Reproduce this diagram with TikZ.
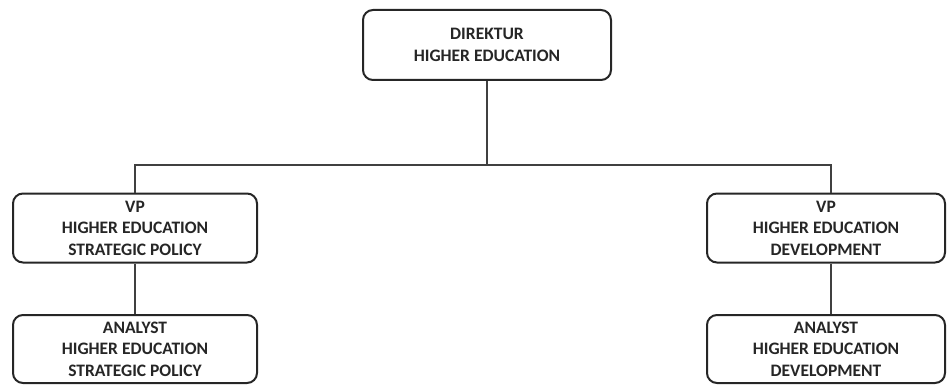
\documentclass[tikz,border=0pt]{standalone}
\usepackage{fontspec}
\setmainfont{Carlito}
\begin{document}
\begin{tikzpicture}[x=1pt,y=-1pt,
  box/.style={draw=black!85, line width=2pt, rounded corners=10pt, fill=white, inner sep=0pt,
    align=center, font=\fontsize{17.5}{21.5}\selectfont\bfseries, text=black!85},
  link/.style={draw=black!75, line width=1.4pt}]
\useasboundingbox (0,0) rectangle (947,385);
\node[box, minimum width=248pt, minimum height=70pt] (dir) at (487,45) {DIREKTUR\\HIGHER EDUCATION};
\node[box, minimum width=244pt, minimum height=69pt] (vp1) at (135,228) {VP\\HIGHER EDUCATION\\STRATEGIC POLICY};
\node[box, minimum width=238pt, minimum height=69pt] (vp2) at (826,228) {VP\\HIGHER EDUCATION\\DEVELOPMENT};
\node[box, minimum width=244pt, minimum height=68pt] (an1) at (135,349) {ANALYST\\HIGHER EDUCATION\\STRATEGIC POLICY};
\node[box, minimum width=238pt, minimum height=68pt] (an2) at (826,349) {ANALYST\\HIGHER EDUCATION\\DEVELOPMENT};
\coordinate (bus) at (487,165);
\draw[link] (dir.south) -- (bus);
\draw[link] (vp1.north) |- (bus) -| ([xshift=5pt]vp2.north);
\draw[link] (vp1.south) -- (an1.north);
\draw[link] ([xshift=5pt]vp2.south) -- ([xshift=5pt]an2.north);
\end{tikzpicture}
\end{document}
